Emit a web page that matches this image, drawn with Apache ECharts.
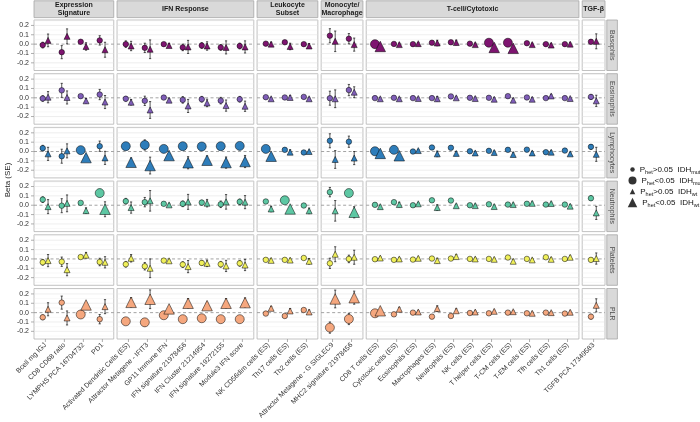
<!DOCTYPE html>
<html><head><meta charset="utf-8">
<script src="https://cdn.jsdelivr.net/npm/echarts@6/dist/echarts.min.js"></script>
<style>html,body{margin:0;padding:0;background:#fff}#c{width:700px;height:422px}</style>
</head><body><div id="c"></div>
<script>
// ---------------- DATA ----------------
const categories = [
  'Bcell mg IGJ','CD8 CD68 ratio','LYMPHS PCA 16704732','PD1',
  'Activated Dendritic Cells (ES)','Attractor Metagene - IFIT3','GP11 Immune IFN','IFN signature 21978456','IFN Cluster 21214954','IFN signature 19272155','Module3 IFN score',
  'NK CD56dim cells (ES)','Th17 cells (ES)','Th2 cells (ES)',
  'Attractor Metagene - G SIGLEC9','MHC2 signature 21978456',
  'CD8 T cells (ES)','Cytotoxic cells (ES)','Eosinophils (ES)','Macrophages (ES)','Neutrophils (ES)','NK cells (ES)','T helper cells (ES)','T-CM cells (ES)','T-EM cells (ES)','Tfh cells (ES)','Th1 cells (ES)',
  'TGFB PCA 17349583'];
const groups = ['Expression\nSignature','IFN Response','Leukocyte\nSubset','Monocyte/\nMacrophage','T-cell/Cytotoxic','TGF-β'];
const groupSizes = [4,7,3,2,11,1];
const cellTypes = ['Basophils','Eosinophils','Lymphocytes','Neutrophils','Platelets','PLR'];
const rowColors = ['#7e1470','#7f5db8','#2e7dba','#5dc7a3','#f0f05a','#f5a77e'];
const yTicks = [-0.2,-0.1,0,0.1,0.2];

const basoMut    = [-0.01,-0.086,0.025,0.04,0.0,-0.04,0.0,-0.035,-0.015,-0.035,-0.02,0.005,0.02,0.0,0.09,0.058,0.0,0.002,0.0,0.015,0.02,0.005,0.015,0.015,0.01,0.0,0.0,0.025];
const basoMutErr = [0.03,0.07,0.012,0.05,0.035,0.05,0.015,0.035,0.03,0.03,0.03,0.012,0.015,0.012,0.075,0.055,0.012,0.012,0.01,0.015,0.015,0.012,0.015,0.015,0.012,0.012,0.012,0.02];
const basoWt     = [0.04,0.083,-0.025,-0.06,-0.02,-0.055,-0.015,-0.03,-0.02,-0.035,-0.03,0.0,-0.025,-0.02,0.03,-0.005,-0.025,-0.005,0.005,0.012,0.017,-0.005,-0.035,-0.045,-0.005,-0.01,0.0,0.03];
const basoWtErr  = [0.068,0.08,0.04,0.08,0.05,0.1,0.02,0.07,0.045,0.07,0.065,0.02,0.035,0.025,0.11,0.07,0.015,0.015,0.012,0.03,0.025,0.015,0.015,0.015,0.015,0.015,0.015,0.08];
const basoSig    = [0,0,0,0,0,0,0,0,0,0,0,0,0,0,0,0,1,0,0,0,0,0,1,1,0,0,0,0];

const eosMut    = [-0.007,0.08,0.018,0.035,-0.01,-0.032,0.003,-0.022,-0.015,-0.03,-0.015,0.007,0.004,0.01,-0.004,0.083,-0.003,0.0,-0.003,-0.003,0.015,0.0,0.0,0.018,0.004,-0.003,-0.003,0.01];
const eosMutErr = [0.03,0.075,0.015,0.055,0.025,0.05,0.012,0.035,0.03,0.035,0.03,0.012,0.012,0.012,0.075,0.06,0.012,0.012,0.012,0.012,0.015,0.012,0.012,0.015,0.012,0.012,0.012,0.025];
const eosWt     = [0.007,0.004,-0.032,-0.045,-0.047,-0.13,-0.025,-0.087,-0.055,-0.083,-0.09,-0.01,0.004,-0.01,-0.01,0.06,-0.01,-0.01,-0.007,-0.01,0.0,-0.007,-0.015,-0.025,-0.015,0.02,-0.007,-0.032];
const eosWtErr  = [0.06,0.07,0.025,0.07,0.03,0.09,0.015,0.07,0.04,0.06,0.055,0.015,0.02,0.015,0.095,0.058,0.012,0.012,0.012,0.025,0.015,0.015,0.015,0.02,0.015,0.015,0.012,0.06];
const eosSig    = [0,0,0,0,0,0,0,0,0,0,0,0,0,0,0,0,0,0,0,0,0,0,0,0,0,0,0,0];

const lymMut    = [0.036,-0.05,0.015,0.057,0.057,0.07,0.028,0.057,0.054,0.057,0.06,0.028,0.018,-0.01,0.115,0.105,0.003,0.018,0.0,0.043,0.04,0.003,0.007,0.018,0.02,-0.007,0.01,0.05];
const lymMutErr = [0.03,0.075,0.012,0.055,0.03,0.055,0.015,0.035,0.025,0.03,0.03,0.015,0.012,0.012,0.075,0.06,0.012,0.012,0.012,0.015,0.015,0.012,0.012,0.015,0.012,0.012,0.012,0.025];
const lymWt     = [-0.025,0.007,-0.065,-0.068,-0.115,-0.15,-0.043,-0.12,-0.093,-0.118,-0.107,-0.05,-0.007,0.0,-0.085,-0.07,-0.02,-0.045,0.01,-0.025,-0.02,-0.015,-0.01,-0.032,-0.015,-0.007,-0.025,-0.03];
const lymWtErr  = [0.07,0.075,0.025,0.07,0.045,0.09,0.02,0.065,0.045,0.06,0.065,0.02,0.025,0.015,0.095,0.07,0.015,0.015,0.012,0.03,0.02,0.015,0.015,0.02,0.015,0.015,0.015,0.075];
const lymSig    = [0,0,1,0,1,1,1,1,1,1,1,1,0,0,0,0,1,1,0,0,0,0,0,0,0,0,0,0];

const neuMut    = [0.06,-0.005,0.025,0.13,0.043,0.033,0.015,0.015,0.028,0.01,0.036,0.04,0.053,-0.003,0.14,0.13,0.004,0.033,0.0,0.053,0.05,0.0,0.01,0.007,0.015,0.007,0.007,0.075];
const neuMutErr = [0.03,0.075,0.012,0.04,0.03,0.05,0.012,0.03,0.025,0.035,0.03,0.012,0.015,0.012,0.05,0.035,0.012,0.012,0.012,0.015,0.015,0.012,0.012,0.012,0.012,0.012,0.012,0.025];
const neuWt     = [-0.015,0.02,-0.058,-0.043,-0.025,0.047,0.004,0.036,0.022,0.036,0.033,-0.04,-0.04,-0.06,-0.06,-0.075,-0.015,0.007,0.015,-0.025,-0.005,-0.004,-0.014,0.007,0.02,0.018,-0.01,-0.082];
const neuWtErr  = [0.075,0.09,0.03,0.08,0.06,0.11,0.015,0.08,0.04,0.078,0.07,0.03,0.03,0.03,0.11,0.06,0.015,0.025,0.012,0.03,0.015,0.015,0.015,0.015,0.015,0.015,0.015,0.07];
const neuSig    = [0,0,0,1,0,0,0,0,0,0,0,0,1,0,0,1,0,0,0,0,0,0,0,0,0,0,0,0];

const pltMut    = [-0.036,-0.03,0.02,-0.033,-0.057,-0.078,-0.018,-0.06,-0.043,-0.057,-0.047,-0.01,-0.01,0.01,-0.047,0.0,-0.003,-0.01,-0.007,0.004,0.004,0.0,0.0,0.015,0.0,0.018,0.0,-0.01];
const pltMutErr = [0.03,0.05,0.012,0.04,0.03,0.04,0.012,0.03,0.025,0.03,0.03,0.012,0.012,0.012,0.055,0.04,0.012,0.012,0.012,0.012,0.012,0.012,0.012,0.012,0.012,0.012,0.012,0.02];
const pltWt     = [-0.018,-0.115,0.04,-0.036,0.007,-0.1,-0.02,-0.082,-0.047,-0.075,-0.065,-0.015,-0.012,-0.025,0.05,0.018,0.01,0.0,0.007,-0.018,0.025,0.0,-0.004,-0.025,-0.01,-0.004,0.018,0.004];
const pltWtErr  = [0.065,0.065,0.03,0.06,0.04,0.1,0.015,0.065,0.035,0.06,0.06,0.015,0.015,0.03,0.08,0.075,0.012,0.012,0.012,0.025,0.02,0.012,0.012,0.02,0.015,0.015,0.015,0.06];
const pltSig    = [0,0,0,0,0,0,0,0,0,0,0,0,0,0,0,0,0,0,0,0,0,0,0,0,0,0,0,0];

const plrMut    = [-0.05,0.107,-0.02,-0.07,-0.093,-0.104,-0.028,-0.07,-0.06,-0.07,-0.07,-0.01,-0.036,0.028,-0.16,-0.068,-0.007,-0.018,0.0,-0.043,-0.036,-0.004,-0.007,0.0,-0.007,0.0,-0.01,-0.043];
const plrMutErr = [0.025,0.07,0.012,0.05,0.025,0.04,0.012,0.025,0.02,0.025,0.025,0.012,0.012,0.012,0.06,0.06,0.012,0.012,0.01,0.015,0.012,0.01,0.01,0.01,0.01,0.01,0.01,0.025];
const plrWt     = [0.036,-0.057,0.082,0.064,0.11,0.143,0.04,0.1,0.075,0.1,0.107,0.046,0.018,0.007,0.146,0.16,0.02,0.036,0.007,0.043,0.02,0.007,0.014,0.01,-0.007,0.0,0.004,0.078];
const plrWtErr  = [0.07,0.075,0.02,0.075,0.05,0.1,0.015,0.05,0.035,0.05,0.05,0.02,0.025,0.02,0.095,0.07,0.015,0.02,0.012,0.03,0.02,0.012,0.012,0.012,0.012,0.012,0.012,0.07];
const plrSig    = [0,0,1,0,1,1,1,1,1,1,1,0,0,0,1,1,1,0,0,0,0,0,0,0,0,0,0,0];

const rowData = [
  {mut:basoMut,mutErr:basoMutErr,wt:basoWt,wtErr:basoWtErr,sig:basoSig},
  {mut:eosMut,mutErr:eosMutErr,wt:eosWt,wtErr:eosWtErr,sig:eosSig},
  {mut:lymMut,mutErr:lymMutErr,wt:lymWt,wtErr:lymWtErr,sig:lymSig},
  {mut:neuMut,mutErr:neuMutErr,wt:neuWt,wtErr:neuWtErr,sig:neuSig},
  {mut:pltMut,mutErr:pltMutErr,wt:pltWt,wtErr:pltWtErr,sig:pltSig},
  {mut:plrMut,mutErr:plrMutErr,wt:plrWt,wtErr:plrWtErr,sig:plrSig}
];

// ---------------- LAYOUT ----------------
const FONT = 'Liberation Sans';
const X0 = 34, X1 = 605, CGAP = 3.3, Y0 = 20, Y1 = 339, RGAP = 3.2;
const YMIN = -0.282, YMAX = 0.258, DODGE = 0.14;
const unit = (X1 - X0 - CGAP * (groupSizes.length - 1)) / groupSizes.reduce((a, n) => a + n + 0.2, 0);
const cols = []; { let xx = X0, st = 0; groupSizes.forEach(n => { const w = unit * (n + 0.2); cols.push({left: xx, width: w, n, start: st}); xx += w + CGAP; st += n; }); }
const rowH = (Y1 - Y0 - RGAP * 5) / 6;
const rowTops = cellTypes.map((_, i) => Y0 + i * (rowH + RGAP));
const gridVals = [-0.25,-0.2,-0.15,-0.1,-0.05,0.05,0.1,0.15,0.2,0.25];
const tickStyle = {stroke: '#9a9a9a', lineWidth: 0.8};

const grid = [], xAxis = [], yAxis = [], series = [];
rowTops.forEach((top, r) => {
  cols.forEach((col, c) => {
    const g = grid.length;
    grid.push({left: col.left, top: top, width: col.width, height: rowH, show: true, borderColor: '#b3b3b3', borderWidth: 0.8, backgroundColor: '#fff'});
    const idx = Array.from({length: col.n}, (_, i) => i);
    xAxis.push({gridIndex: g, type: 'value', min: -0.6, max: col.n - 0.4,
      axisLine: {show: false}, splitLine: {show: false}, axisTick: {show: false},
      axisLabel: {show: r === 5, customValues: idx, rotate: 45, fontSize: 7, color: '#333', margin: 5, fontFamily: FONT,
        formatter: (v) => categories[col.start + Math.round(v)]}});
    yAxis.push({gridIndex: g, type: 'value', min: YMIN, max: YMAX,
      axisLine: {show: false}, splitLine: {show: false}, axisTick: {show: false},
      axisLabel: {show: c === 0, customValues: yTicks, fontSize: 7, color: '#333', margin: 5, fontFamily: FONT,
        formatter: (v) => v.toFixed(1)}});
    // grid lines
    series.push({type: 'custom', xAxisIndex: g, yAxisIndex: g, silent: true, z: 1,
      data: gridVals.map(v => [0, v]),
      renderItem: (p, api) => {
        const v = api.value(1), y = api.coord([0, v])[1], cs = p.coordSys;
        const major = Math.abs(Math.round(v * 10) - v * 10) < 1e-6;
        return {type: 'line', shape: {x1: cs.x, y1: y, x2: cs.x + cs.width, y2: y},
          style: {stroke: major ? '#e2e2e2' : '#eeeeee', lineWidth: major ? 0.6 : 0.4}};
      }});
    // zero dashed line
    series.push({type: 'custom', xAxisIndex: g, yAxisIndex: g, silent: true, z: 2,
      data: [[0, 0]],
      renderItem: (p, api) => {
        const y = api.coord([0, 0])[1], cs = p.coordSys;
        return {type: 'line', shape: {x1: cs.x, y1: y, x2: cs.x + cs.width, y2: y},
          style: {stroke: '#8c8c8c', lineWidth: 0.8, lineDash: [3, 2.5]}};
      }});
    // axis ticks
    if (c === 0) series.push({type: 'custom', xAxisIndex: g, yAxisIndex: g, silent: true, z: 2, clip: false,
      data: yTicks.map(v => [0, v]),
      renderItem: (p, api) => {
        const y = api.coord([0, api.value(1)])[1], cs = p.coordSys;
        return {type: 'line', shape: {x1: cs.x - 3, y1: y, x2: cs.x, y2: y}, style: tickStyle};
      }});
    if (r === 5) series.push({type: 'custom', xAxisIndex: g, yAxisIndex: g, silent: true, z: 2, clip: false,
      data: idx.map(i => [i, 0]),
      renderItem: (p, api) => {
        const x = api.coord([api.value(0), 0])[0], cs = p.coordSys;
        return {type: 'line', shape: {x1: x, y1: cs.y + cs.height, x2: x, y2: cs.y + cs.height + 3}, style: tickStyle};
      }});
    const d = rowData[r];
    const errs = [], mutPts = [], wtPts = [];
    for (let i = 0; i < col.n; i++) {
      const k = col.start + i;
      errs.push([i - DODGE, d.mut[k] - d.mutErr[k], d.mut[k] + d.mutErr[k]]);
      errs.push([i + DODGE, d.wt[k] - d.wtErr[k], d.wt[k] + d.wtErr[k]]);
      mutPts.push([i - DODGE, d.mut[k], d.sig[k]]);
      wtPts.push([i + DODGE, d.wt[k], d.sig[k]]);
    }
    series.push({type: 'custom', xAxisIndex: g, yAxisIndex: g, silent: true, z: 3,
      encode: {x: 0, y: [1, 2]}, data: errs,
      renderItem: (p, api) => {
        const x = api.value(0), a = api.coord([x, api.value(1)]), b = api.coord([x, api.value(2)]), cw = 1.1;
        const st = {stroke: '#111', lineWidth: 0.7};
        return {type: 'group', children: [
          {type: 'line', shape: {x1: a[0], y1: a[1], x2: b[0], y2: b[1]}, style: st},
          {type: 'line', shape: {x1: a[0] - cw, y1: a[1], x2: a[0] + cw, y2: a[1]}, style: st},
          {type: 'line', shape: {x1: b[0] - cw, y1: b[1], x2: b[0] + cw, y2: b[1]}, style: st}]};
      }});
    series.push({type: 'scatter', xAxisIndex: g, yAxisIndex: g, silent: true, z: 4, symbol: 'circle',
      symbolSize: (v) => v[2] ? 9 : 5.5, data: mutPts,
      itemStyle: {color: rowColors[r], borderColor: '#000', borderWidth: 0.5, opacity: 1}});
    series.push({type: 'scatter', xAxisIndex: g, yAxisIndex: g, silent: true, z: 5, symbol: 'triangle',
      symbolSize: (v) => v[2] ? 10.5 : 6, data: wtPts,
      itemStyle: {color: rowColors[r], borderColor: '#000', borderWidth: 0.5, opacity: 1}});
  });
});

// legend
const legendItems = [
  {name: 'smallMut', icon: 'circle', size: 4.5, y: 168, het: '>0.05', idh: 'mut'},
  {name: 'bigMut', icon: 'circle', size: 8, y: 179, het: '<0.05', idh: 'mut'},
  {name: 'smallWt', icon: 'triangle', size: 5.5, y: 190, het: '>0.05', idh: 'wt'},
  {name: 'bigWt', icon: 'triangle', size: 9.5, y: 201, het: '<0.05', idh: 'wt'}];
const legend = legendItems.map(it => ({
  left: 636.5 - it.size / 2 - 4, top: it.y - 4, padding: 0, itemWidth: it.size, itemHeight: it.size, selectedMode: false,
  data: [{name: it.name, icon: it.icon}],
  formatter: () => '{a|P}{s|het}{a|' + it.het + '  IDH}{s|' + it.idh + '}',
  textStyle: {fontFamily: FONT, rich: {
    a: {fontSize: 8, color: '#111', fontFamily: FONT, lineHeight: 12, verticalAlign: 'middle'},
    s: {fontSize: 5.5, color: '#111', fontFamily: FONT, lineHeight: 12, padding: [5, 0, 0, 0]}}}
}));
legendItems.forEach(it => series.push({type: 'scatter', name: it.name, data: [], xAxisIndex: 0, yAxisIndex: 0, itemStyle: {color: '#000'}}));

// graphics: strips & axis title
const graphic = [];
cols.forEach((col, c) => {
  graphic.push({type: 'rect', shape: {x: col.left, y: 0.8, width: col.width, height: 16.8}, style: {fill: '#d9d9d9', stroke: '#a6a6a6', lineWidth: 0.8}, silent: true});
  graphic.push({type: 'text', x: col.left + col.width / 2, y: 9.3, silent: true,
    style: {text: groups[c], textAlign: 'center', textVerticalAlign: 'middle', font: 'bold 7px "' + FONT + '"', fill: '#1a1a1a', lineHeight: 8}});
});
rowTops.forEach((top, r) => {
  graphic.push({type: 'rect', shape: {x: 606.8, y: top, width: 10.6, height: rowH}, style: {fill: '#d9d9d9', stroke: '#a6a6a6', lineWidth: 0.8}, silent: true});
  graphic.push({type: 'text', x: 612.2, y: top + rowH / 2, rotation: -Math.PI / 2, silent: true,
    style: {text: cellTypes[r], textAlign: 'center', textVerticalAlign: 'middle', font: '7px "' + FONT + '"', fill: '#4d4d4d'}});
});
graphic.push({type: 'text', x: 8, y: 180, rotation: Math.PI / 2, silent: true,
  style: {text: 'Beta (SE)', textAlign: 'center', textVerticalAlign: 'middle', font: '8px "' + FONT + '"', fill: '#222'}});

const chart = echarts.init(document.getElementById('c'), null, {renderer: 'canvas', width: 700, height: 422});
chart.setOption({animation: false, backgroundColor: '#fff', textStyle: {fontFamily: FONT},
  grid, xAxis, yAxis, series, legend, graphic});
</script></body></html>
